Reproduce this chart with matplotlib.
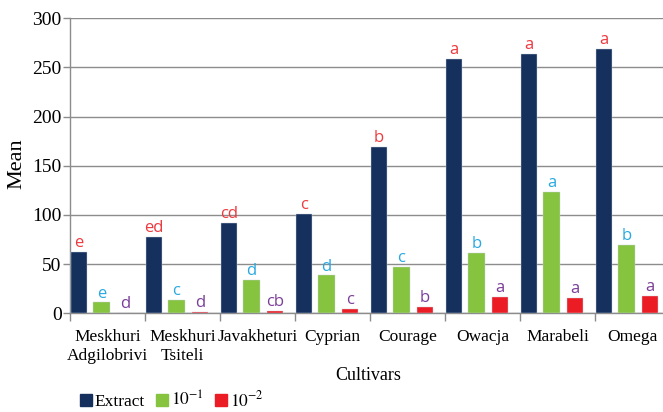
import numpy as np
import matplotlib.pyplot as plt
from matplotlib.patches import Patch

cultivars = ['Meskhuri\nAdgilobrivi', 'Meskhuri\nTsiteli', 'Javakheturi', 'Cyprian',
             'Courage', 'Owacja', 'Marabeli', 'Omega']
extract = [62.5, 78, 92, 101, 169.5, 258.5, 263.5, 268.5]
dil_1 = [11, 14, 34, 38.5, 47.5, 61, 123, 69.5]
dil_2 = [0.8, 1.3, 2.7, 4, 6.7, 17, 16, 17.6]
letters_extract = ['e', 'ed', 'cd', 'c', 'b', 'a', 'a', 'a']
letters_1 = ['e', 'c', 'd', 'd', 'c', 'b', 'a', 'b']
letters_2 = ['d', 'd', 'cb', 'c', 'b', 'a', 'a', 'a']

NAVY = '#16305e'
GREEN = '#86c440'
RED = '#ec1c24'

plt.rcParams.update({
    'font.family': 'serif',
    'font.serif': ['Liberation Serif', 'DejaVu Serif'],
    'mathtext.fontset': 'stix',
    'font.size': 12.5,
})

fig = plt.figure(figsize=(6.63, 4.12), dpi=100)
ax = fig.add_axes([70 / 663, 98.7 / 412, 600 / 663, 295 / 412])

x = np.arange(len(cultivars))
w = 0.22
series = [
    (extract, -0.38, NAVY, letters_extract, '#ee3a3f'),
    (dil_1, -0.08, GREEN, letters_1, '#2aa9e0'),
    (dil_2, 0.23, RED, letters_2, '#7b3f98'),
]
for vals, off, col, lets, lcol in series:
    ax.bar(x + off, vals, width=w, color=col, edgecolor='#c8d0dc', linewidth=0.3, zorder=3)
    for xi, v, t in zip(x + off, vals, lets):
        ax.text(xi, v + 5, t, ha='center', va='baseline', color=lcol,
                fontsize=12, family='Open Sans', zorder=4)

ax.set_xlim(-0.5, 7.5)
ax.set_ylim(0, 300)
ax.set_yticks(range(0, 301, 50))
ax.grid(axis='y', color='#8c8c8c', linewidth=1.0, zorder=0)

ax.set_xticks(np.arange(-0.5, 8, 1))
ax.set_xticklabels([])
ax.set_xticks(x, minor=True)
ax.set_xticklabels(cultivars, minor=True, linespacing=1.3)
ax.tick_params(axis='x', which='minor', length=0, pad=11)
ax.tick_params(axis='x', which='major', length=6, color='#8c8c8c', width=1)
ax.tick_params(axis='y', length=5, color='#8c8c8c', width=1, pad=1, labelsize=14)

for s in ['top', 'right']:
    ax.spines[s].set_visible(False)
for s in ['left', 'bottom']:
    ax.spines[s].set_color('#8c8c8c')
    ax.spines[s].set_linewidth(1.0)

fig.text(368 / 663, 1 - 375 / 412, 'Cultivars', ha='center', va='center', fontsize=13)
fig.text(17 / 663, 1 - 164 / 412, 'Mean', ha='center', va='center', rotation=90, fontsize=16)

handles = [Patch(color=NAVY, label='Extract'),
           Patch(color=GREEN, label='$10^{-1}$'),
           Patch(color=RED, label='$10^{-2}$')]
fig.legend(handles=handles, loc='center left', bbox_to_anchor=(73 / 663, 1 - 400 / 412),
           ncol=3, frameon=False, handlelength=0.7, handleheight=0.7,
           handletextpad=0.15, columnspacing=0.65, fontsize=12.5, borderaxespad=0)

fig.savefig('out.png', dpi=100)
